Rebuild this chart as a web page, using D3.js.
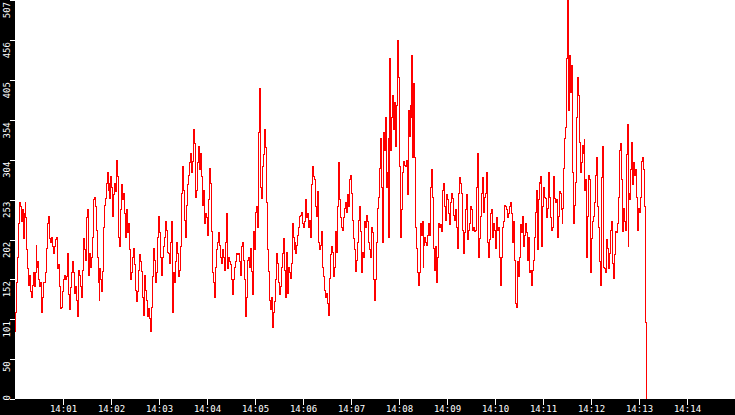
<!DOCTYPE html>
<html>
<head>
<meta charset="utf-8">
<script src="https://cdn.jsdelivr.net/npm/d3@7"></script>
<style>
  html, body { margin: 0; padding: 0; background: #fff; }
  svg { display: block; }
</style>
</head>
<body>
<svg id="chart"></svg>
<script>
// samples, in blocks of roughly 2 min 11 s each
const blockStarts = ['14:00:00', '14:02:11.25', '14:04:22.5', '14:06:33.75', '14:08:45', '14:10:56.25']
const lastSample = '14:13:09'

const block1 = [85,110,147,179,223,250,244,225,240,204,236,249,230,189,166,144,157,136,129,144,
  160,142,160,195,167,174,151,142,148,109,129,147,148,160,179,191,223,231,204,199,
  205,193,185,193,202,205,185,166,170,142,115,116,136,151,157,151,155,167,185,132,
  113,141,160,174,160,134,142,125,104,138,163,157,142,129,163,204,189,176,230,240,
  205,157,185,167,179,205,253,256,244,214,180,147,125,166,151,136,161,217,246,255,
  274,287,265,274,255,282,268,231,259,274,263,303,282,205,193]
const block2 = [202,240,272,253,261,236,205,240,211,223,189,151,160,180,191,170,138,123,136,163,
  183,174,161,128,106,157,138,125,104,115,102,85,116,155,191,176,147,160,205,231,
  211,179,157,180,193,205,225,214,186,185,172,198,225,129,110,160,147,174,198,185,
  155,163,193,261,295,265,227,205,246,272,284,300,312,288,301,342,325,256,265,300,
  320,291,312,282,246,265,223,236,230,208,253,293,274,212,160,147,129,167,189,198,
  211,195,180,172,189,180,163]
const block3 = [163,199,236,166,180,174,170,151,132,151,167,174,185,183,185,174,157,193,199,176,
  151,104,128,176,179,167,191,161,132,212,189,237,244,218,338,395,333,268,255,295,
  310,342,319,250,189,161,125,113,129,90,109,123,151,185,172,148,132,142,167,185,
  204,163,128,186,134,167,160,153,172,223,205,189,198,185,195,208,218,231,233,237,
  223,217,225,253,230,236,218,227,205,272,295,282,278,244,231,263,198,189,195,212,
  167,155,138,128,134,121,106,153]
const block4 = [155,183,193,186,155,167,212,186,244,300,253,230,221,218,214,230,242,250,237,259,
  244,278,284,261,227,212,204,189,161,176,199,227,244,212,160,186,180,225,217,218,
  233,225,199,189,179,218,211,151,125,151,174,198,242,256,293,331,269,198,338,316,
  357,268,287,331,205,433,316,357,386,342,377,320,373,456,409,295,214,205,240,288,
  301,297,295,303,259,367,333,373,358,437,307,401,306,218,191,160,144,160,223,208,
  225,167,195,205,199,195,208,223,208,269,291,256,191,163]
const block5 = [179,193,147,180,223,217,221,212,265,274,244,227,259,253,236,221,249,261,255,233,
  227,240,217,191,261,281,274,261,214,185,211,240,259,202,214,223,244,240,214,217,
  212,214,268,312,180,204,231,261,281,237,256,261,288,269,199,180,202,236,240,205,
  223,214,191,230,214,217,180,144,180,218,225,246,244,240,230,236,244,250,236,199,
  225,176,121,116,174,155,179,221,211,231,193,208,223,211,176,205,160,163,144,163,
  176,205,237,265,189,253,275]
const block6 = [274,282,193,244,268,256,255,230,242,287,256,230,214,218,282,255,249,253,205,231,
  263,261,240,223,242,293,331,345,433,507,367,437,389,424,287,223,246,275,357,409,
  386,326,288,300,322,312,329,265,278,180,231,284,278,160,204,225,231,249,284,307,
  244,217,174,144,281,320,167,166,160,186,202,191,166,185,214,225,172,153,183,212,
  211,223,256,316,325,278,212,242,225,214,310,348,193,261,253,291,326,272,300,284,
  291,256,214,242,237,256,301,306,291,244,97,0]

const yTicks = [0, 50, 101, 152, 202, 253, 304, 354, 405, 456, 507]
const xTickLabels = ['14:01','14:02','14:03','14:04','14:05','14:06','14:07','14:08','14:09','14:10','14:11','14:12','14:13','14:14']

const width = 735
const height = 415
const margin = { left: 15, bottom: 16 }

const parseT = s => {
  const [h, m, sec = 0] = s.split(':').map(Number)
  return new Date(2000, 0, 1, h, m, 0, Math.round(sec * 1000))
}

// spread each block's samples evenly over its time span
const blocks = [block1, block2, block3, block4, block5, block6]
const data = []
blocks.forEach((vals, b) => {
  const t0 = +parseT(blockStarts[b])
  const last = b === blocks.length - 1
  const t1 = last ? +parseT(lastSample) : +parseT(blockStarts[b + 1])
  const step = (t1 - t0) / (last ? vals.length - 1 : vals.length)
  vals.forEach((v, i) => data.push({ t: new Date(t0 + i * step), v }))
})

const svg = d3.select('#chart').attr('width', width).attr('height', height)

const x = d3.scaleTime()
  .domain([parseT('14:00:00'), parseT('14:15:00')])
  .range([margin.left, width])

const plotBottom = height - margin.bottom
const y = d3.scaleLinear()
  .domain([0, 507])
  .range([plotBottom - 0.5, 0])

svg.append('rect').attr('width', width).attr('height', height).attr('fill', '#fff')

svg.append('clipPath').attr('id', 'plot-clip')
  .append('rect')
  .attr('x', margin.left).attr('y', 0)
  .attr('width', width - margin.left).attr('height', plotBottom)

const line = d3.line()
  .x(d => x(d.t))
  .y(d => y(d.v))
  .curve(d3.curveStepAfter)

svg.append('path')
  .datum(data)
  .attr('clip-path', 'url(#plot-clip)')
  .attr('fill', 'none')
  .attr('stroke', '#ff0000')
  .attr('stroke-width', 1)
  .attr('shape-rendering', 'crispEdges')
  .attr('d', line)

// black axis bands
svg.append('rect').attr('x', 0).attr('y', 0).attr('width', margin.left).attr('height', height).attr('fill', '#000')
svg.append('rect').attr('x', 0).attr('y', plotBottom).attr('width', width).attr('height', margin.bottom).attr('fill', '#000')

const fontFamily = '"DejaVu Sans Mono", "Liberation Mono", monospace'

// bottom axis
const xTicks = xTickLabels.map(parseT)
const xAxis = d3.axisBottom(x)
  .tickValues(xTicks)
  .tickFormat(d3.timeFormat('%H:%M'))
  .tickSize(6)
  .tickPadding(1)

const gx = svg.append('g')
  .attr('transform', `translate(0, ${plotBottom})`)
  .call(xAxis)
gx.select('.domain').remove()
gx.selectAll('.tick line').attr('stroke', '#fff').attr('shape-rendering', 'crispEdges')
gx.selectAll('.tick text')
  .attr('fill', '#fff')
  .attr('font-family', fontFamily)
  .attr('font-size', '9px')

// left axis, labels turned to read upward
const yAxis = d3.axisLeft(y)
  .tickValues(yTicks)
  .tickFormat(d3.format('d'))
  .tickSize(5)

const gy = svg.append('g')
  .attr('transform', `translate(${margin.left}, 0)`)
  .call(yAxis)
gy.select('.domain').remove()
gy.selectAll('.tick line').attr('stroke', '#fff').attr('shape-rendering', 'crispEdges')
gy.selectAll('.tick text')
  .attr('fill', '#fff')
  .attr('font-family', fontFamily)
  .attr('font-size', '9px')
  .attr('transform', 'rotate(-90)')
  .attr('text-anchor', d => d === 0 ? 'start' : 'end')
  .attr('x', -1.5)
  .attr('y', -5)
  .attr('dy', 0)
</script>
</body>
</html>
